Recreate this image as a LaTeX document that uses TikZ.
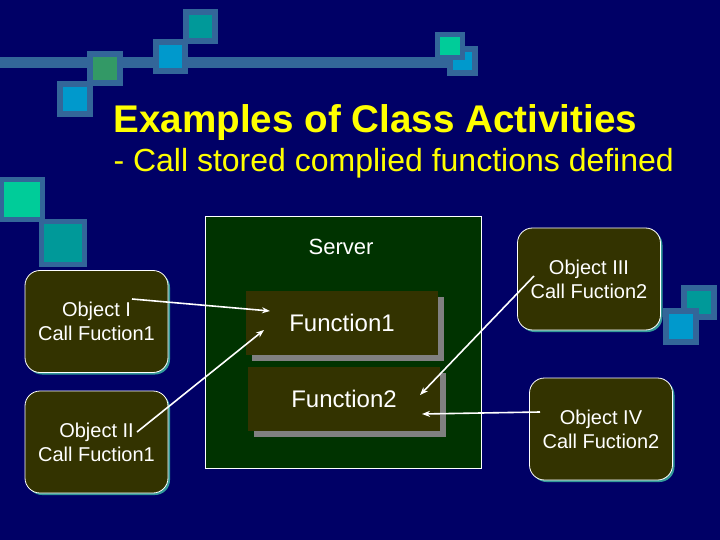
\documentclass[tikz,border=0pt]{standalone}
\usepackage{fontspec}
\setmainfont{Liberation Sans}
\usetikzlibrary{arrows.meta,shadows}
\definecolor{navy}{HTML}{000066}
\definecolor{steel}{HTML}{336699}
\definecolor{tealsq}{HTML}{009999}
\definecolor{bluesq}{HTML}{0099CC}
\definecolor{greensq}{HTML}{339966}
\definecolor{mintsq}{HTML}{00CC99}
\definecolor{servergreen}{HTML}{003300}
\definecolor{olivebox}{HTML}{333300}
\definecolor{objshadow}{HTML}{339999}
\definecolor{titleyellow}{HTML}{FFFF00}

\begin{document}
\begin{tikzpicture}[x=1pt,y=-1pt,>={Stealth[length=8pt,width=6pt]},
  sqr/.style={draw=steel,line width=6pt},
  objbox/.style={draw=white,line width=0.8pt,fill=olivebox,rounded corners=15pt,
    minimum width=143pt,minimum height=102pt,align=center,text=white,
    font=\fontsize{20}{24}\selectfont,
    drop shadow={shadow xshift=2pt,shadow yshift=-2pt,fill=objshadow,opacity=1}},
  funcbox/.style={fill=olivebox,minimum width=192pt,minimum height=64pt,text=white,
    font=\fontsize{24}{28}\selectfont,
    drop shadow={shadow xshift=6pt,shadow yshift=-6pt,fill=gray,opacity=1}},
  link/.style={->,white,line width=1.6pt}]
  \useasboundingbox (0,0) rectangle (720,540);
  \fill[navy] (0,0) rectangle (720,540);

  \fill[steel] (0,57) rectangle (450,68);
  \filldraw[sqr,fill=tealsq] (186,12) rectangle (215,41);
  \filldraw[sqr,fill=bluesq] (156,42) rectangle (185,71);
  \filldraw[sqr,fill=greensq] (90,54) rectangle (120,83);
  \filldraw[sqr,fill=bluesq] (60,84) rectangle (90,114);
  \filldraw[sqr,fill=bluesq] (450,49) rectangle (475,73);
  \filldraw[sqr,line width=5pt,fill=mintsq] (437.5,34.5) rectangle (462.5,57.5);
  \filldraw[sqr,line width=5pt,fill=mintsq] (1.5,179.5) rectangle (42.5,219.5);
  \filldraw[sqr,line width=5.5pt,fill=tealsq] (41.5,221.5) rectangle (84.5,264.5);
  \filldraw[sqr,fill=tealsq] (684,288) rectangle (714,317);
  \filldraw[sqr,fill=bluesq] (666,311) rectangle (696,342);

  \node[anchor=base west,text=titleyellow,font=\fontsize{38.6}{46}\selectfont\bfseries]
    (title) at (110,133) {Examples of Class Activities};
  \node[anchor=base west,text=titleyellow,font=\fontsize{32}{38}\selectfont]
    (subtitle) at (110,172) {- Call stored complied functions defined};

  \node[draw=white,line width=0.8pt,fill=servergreen,minimum width=276pt,
    minimum height=252pt] (server) at (343,342) {};
  \node[text=white,font=\fontsize{22}{26}\selectfont] (serverlabel) at (341,247) {Server};
  \node[funcbox] (func1) at (342,322.5) {Function1};
  \node[funcbox] (func2) at (344,398.5) {Function2};

  \node[objbox] (obj1) at (96.5,321.5) {Object I\\Call Fuction1};
  \node[objbox] (obj2) at (96.5,442) {Object II\\Call Fuction1};
  \node[objbox] (obj3) at (589,279) {Object III\\Call Fuction2};
  \node[objbox] (obj4) at (601,429) {Object IV\\Call Fuction2};

  \coordinate (obj1tail) at (132,299);
  \coordinate (obj2tail) at (137,432);
  \coordinate (obj3tail) at (534,276);
  \coordinate (obj4tail) at (540,412);
  \coordinate (func1in) at (270,311);
  \coordinate (func1low) at (264,330);
  \coordinate (func2in) at (420,395);
  \coordinate (func2right) at (422,414);

  \draw[link] (obj1tail)--(func1in);
  \draw[link] (obj2tail)--(func1low);
  \draw[link] (obj3tail)--(func2in);
  \draw[link] (obj4tail)--(func2right);
\end{tikzpicture}
\end{document}
